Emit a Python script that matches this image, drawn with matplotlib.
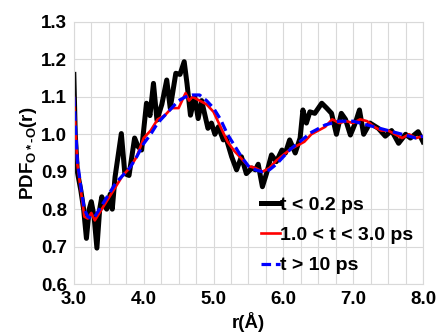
import numpy as np
import matplotlib
matplotlib.use("Agg")
import matplotlib.pyplot as plt
from matplotlib.ticker import MultipleLocator

plt.rcParams['font.family'] = ['Liberation Sans', 'DejaVu Sans']
plt.rcParams['font.weight'] = 'bold'
plt.rcParams['mathtext.fontset'] = 'custom'
plt.rcParams['mathtext.rm'] = 'Liberation Sans:bold'
plt.rcParams['mathtext.it'] = 'Liberation Sans:bold'
plt.rcParams['mathtext.bf'] = 'Liberation Sans:bold'
plt.rcParams['mathtext.default'] = 'bf'

# t < 0.2 ps (noisy curve)
r_short = [3.00, 3.02, 3.05, 3.10, 3.14, 3.18, 3.22, 3.25, 3.29, 3.33, 3.37, 3.40,
           3.44, 3.47, 3.52, 3.55, 3.59, 3.68, 3.73, 3.79, 3.87, 3.92, 3.97, 4.04,
           4.09, 4.14, 4.19, 4.26, 4.33, 4.38, 4.46, 4.52, 4.58, 4.62, 4.67, 4.73,
           4.78, 4.83, 4.92, 4.97, 5.02, 5.07, 5.14, 5.18, 5.26, 5.33, 5.40, 5.47,
           5.55, 5.60, 5.64, 5.70, 5.76, 5.83, 5.90, 5.98, 6.03, 6.09, 6.17, 6.24,
           6.28, 6.33, 6.38, 6.45, 6.55, 6.62, 6.69, 6.76, 6.83, 6.89, 6.96, 7.03,
           7.09, 7.15, 7.24, 7.36, 7.46, 7.55, 7.65, 7.75, 7.82, 7.93, 8.00]
pdf_short = [1.16, 1.00, 0.90, 0.85, 0.80, 0.722, 0.80, 0.82, 0.78, 0.696, 0.80, 0.833,
             0.81, 0.80, 0.84, 0.80, 0.886, 1.002, 0.895, 0.89, 0.99, 0.967, 0.958, 1.083,
             1.05, 1.136, 1.038, 1.08, 1.145, 1.07, 1.163, 1.16, 1.194, 1.136, 1.051, 1.10,
             1.042, 1.09, 1.016, 1.03, 1.00, 1.02, 0.985, 0.99, 0.94, 0.905, 0.94, 0.895,
             0.91, 0.905, 0.92, 0.86, 0.896, 0.945, 0.927, 0.958, 0.95, 0.985, 0.95, 0.99,
             1.065, 1.03, 1.06, 1.056, 1.083, 1.07, 1.056, 1.00, 1.056, 1.04, 0.998, 1.03,
             1.065, 1.00, 1.03, 1.016, 0.995, 1.01, 0.976, 1.00, 0.99, 1.007, 0.98]

# 1.0 < t < 3.0 ps
r_mid = [3.00, 3.05, 3.10, 3.15, 3.20, 3.25, 3.30, 3.40, 3.50, 3.60, 3.70, 3.80,
         3.90, 4.00, 4.10, 4.20, 4.30, 4.40, 4.50, 4.60, 4.65, 4.70, 4.80, 4.90,
         5.00, 5.10, 5.20, 5.30, 5.40, 5.50, 5.60, 5.70, 5.80, 5.90, 6.00, 6.10,
         6.20, 6.30, 6.40, 6.50, 6.60, 6.70, 6.80, 6.90, 7.00, 7.10, 7.20, 7.30,
         7.40, 7.50, 7.60, 7.70, 7.80, 7.90, 8.00]
pdf_mid = [1.10, 0.92, 0.85, 0.78, 0.775, 0.79, 0.77, 0.80, 0.83, 0.86, 0.89, 0.91,
           0.94, 0.99, 1.01, 1.04, 1.05, 1.07, 1.07, 1.11, 1.09, 1.10, 1.09, 1.08,
           1.06, 1.02, 0.98, 0.955, 0.935, 0.915, 0.91, 0.90, 0.91, 0.93, 0.945, 0.96,
           0.97, 0.98, 1.00, 1.01, 1.02, 1.04, 1.03, 1.035, 1.03, 1.04, 1.035, 1.02,
           1.01, 1.01, 1.00, 0.99, 1.00, 0.99, 0.995]

# t > 10 ps
r_long = [3.00, 3.05, 3.10, 3.15, 3.20, 3.25, 3.30, 3.40, 3.50, 3.60, 3.70, 3.80,
          3.90, 4.00, 4.10, 4.20, 4.30, 4.40, 4.50, 4.60, 4.70, 4.80, 4.90, 5.00,
          5.10, 5.20, 5.30, 5.40, 5.50, 5.60, 5.70, 5.80, 5.90, 6.00, 6.10, 6.20,
          6.30, 6.40, 6.50, 6.60, 6.70, 6.80, 6.90, 7.00, 7.10, 7.20, 7.30, 7.40,
          7.50, 7.60, 7.70, 7.80, 7.90, 8.00]
pdf_long = [1.10, 0.93, 0.86, 0.80, 0.78, 0.775, 0.78, 0.81, 0.84, 0.87, 0.89, 0.91,
            0.94, 0.975, 1.00, 1.03, 1.05, 1.07, 1.09, 1.10, 1.105, 1.105, 1.09, 1.07,
            1.04, 1.00, 0.97, 0.94, 0.915, 0.905, 0.90, 0.905, 0.92, 0.94, 0.96, 0.975,
            0.99, 1.005, 1.015, 1.025, 1.03, 1.035, 1.035, 1.035, 1.03, 1.025, 1.02, 1.015,
            1.01, 1.005, 1.00, 0.995, 0.99, 0.995]

fig = plt.figure(figsize=(4.37, 3.33), dpi=100)
ax = fig.add_axes([0.169, 0.147, 0.799, 0.787])

ax.plot(r_short, pdf_short, color='black', lw=3.6, label='t < 0.2 ps',
        solid_joinstyle='round')
ax.plot(r_mid, pdf_mid, color='red', lw=1.9, label='1.0 < t < 3.0 ps')
ax.plot(r_long, pdf_long, color='blue', lw=2.3, ls=(0, (3, 1.5)), label='t > 10 ps')

ax.set_xlim(3.0, 8.0)
ax.set_ylim(0.6, 1.3)
ax.xaxis.set_major_locator(MultipleLocator(1.0))
ax.xaxis.set_minor_locator(MultipleLocator(0.25))
ax.yaxis.set_major_locator(MultipleLocator(0.1))
ax.xaxis.set_major_formatter(plt.FormatStrFormatter('%.1f'))
ax.yaxis.set_major_formatter(plt.FormatStrFormatter('%.1f'))
ax.grid(which='both', color='#d9d9d9', lw=0.8)
ax.set_axisbelow(True)
ax.tick_params(which='both', length=0, labelsize=13.5, pad=5)
for s in ax.spines.values():
    s.set_color('#d9d9d9')
    s.set_linewidth(0.8)

ax.set_xlabel('r(Å)', fontsize=13.5, fontweight='bold', labelpad=3)
ax.set_ylabel(r'PDF$_{O*\text{-}O}$(r)', fontsize=13.5, fontweight='bold', labelpad=1)

leg = ax.legend(loc='lower right', bbox_to_anchor=(1.0, 0.0), frameon=False,
                prop={'size': 14, 'weight': 'bold'}, handlelength=1.0,
                handletextpad=0.0, labelspacing=0.65, borderaxespad=0.1)

fig.savefig('out.png', dpi=100)
